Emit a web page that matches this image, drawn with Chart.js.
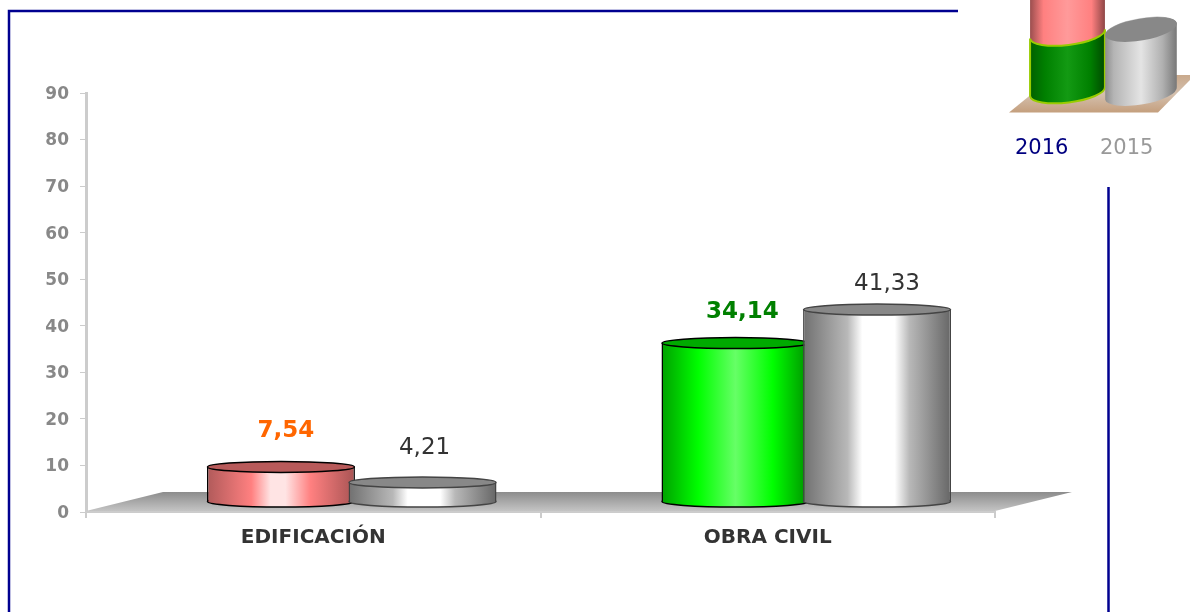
<!DOCTYPE html>
<html>
<head>
<meta charset="utf-8">
<title>Edificación / Obra civil</title>
<script src="https://cdn.jsdelivr.net/npm/chart.js@4/dist/chart.umd.min.js"></script>
<style>
    html, body { margin: 0; padding: 0; background: #fff; overflow: hidden; }
    canvas { display: block; }
</style>
</head>
<body>
<canvas id="chart" width="1190" height="612"></canvas>
<script>
const categories = ["EDIFICACIÓN", "OBRA CIVIL"];
const years = ["2016", "2015"];
const values2016 = [7.54, 34.14];
const values2015 = [4.21, 41.33];

// the bars stand in the middle of the 3d floor, not on the axis line
const depthX = 38.5;
const depthY = -10;
const floorDepth = 19;
const capRadius = 5.5;

const redRamp = [[0, "#b05a5a"], [0.3, "#ff8080"], [0.43, "#ffe4e4"], [0.53, "#ffe4e4"], [0.7, "#ff8080"], [1, "#a85454"]];
const greenRamp = [[0, "#00a000"], [0.25, "#00ff00"], [0.5, "#66ff66"], [0.75, "#00ff00"], [1, "#009000"]];
const greyRamp = [[0, "#707070"], [0.3, "#b8b8b8"], [0.4, "#ffffff"], [0.62, "#ffffff"], [0.72, "#b8b8b8"], [1, "#666666"]];

function makeRamp(ctx, left, right, ramp) {
    const grad = ctx.createLinearGradient(left, 0, right, 0);
    ramp.forEach(function (stop) {
        grad.addColorStop(stop[0], stop[1]);
    });
    return grad;
}

function barStyle(datasetIndex, dataIndex) {
    if (datasetIndex === 1) {
        return {ramp: greyRamp, cap: "#888888", line: "#444444"};
    }
    if (dataIndex === 0) {
        return {ramp: redRamp, cap: "#b85a5a", line: "#000000"};
    }
    return {ramp: greenRamp, cap: "#00aa00", line: "#000000"};
}

function drawCylinder(ctx, bar, style) {
    const grad = makeRamp(ctx, bar.x - bar.width / 2, bar.x + bar.width / 2, style.ramp);
    const rx = bar.width / 2 - 0.5;

    ctx.beginPath();
    ctx.ellipse(bar.x, bar.base, rx, capRadius, 0, 0, Math.PI * 2);
    ctx.fillStyle = grad;
    ctx.fill();
    ctx.lineWidth = 1.5;
    ctx.strokeStyle = style.line;
    ctx.stroke();

    bar.options.backgroundColor = grad;
    bar.options.borderColor = style.line;
    bar.draw(ctx);

    ctx.beginPath();
    ctx.ellipse(bar.x, bar.y, rx, capRadius, 0, 0, Math.PI * 2);
    ctx.fillStyle = style.cap;
    ctx.fill();
    ctx.lineWidth = 1.5;
    ctx.strokeStyle = style.line;
    ctx.stroke();
}

function drawFrame(ctx) {
    ctx.strokeStyle = "#000090";
    ctx.lineWidth = 2.5;
    ctx.beginPath();
    ctx.moveTo(958, 11);
    ctx.lineTo(9, 11);
    ctx.lineTo(9, 612);
    ctx.moveTo(1108.5, 187);
    ctx.lineTo(1108.5, 612);
    ctx.stroke();
}

function drawFloor(chart) {
    const ctx = chart.ctx;
    const left = chart.scales.x.left;
    const right = chart.scales.x.right;
    const front = chart.scales.y.getPixelForValue(0) - 1;
    const back = front - floorDepth;
    const grad = ctx.createLinearGradient(0, back, 0, front);
    grad.addColorStop(0, "#8c8c8c");
    grad.addColorStop(1, "#c4c4c4");
    ctx.fillStyle = grad;
    ctx.beginPath();
    ctx.moveTo(left, front);
    ctx.lineTo(right, front);
    ctx.lineTo(right + depthX * 2, back);
    ctx.lineTo(left + depthX * 2, back);
    ctx.closePath();
    ctx.fill();
}

// little tilted cylinders of the legend picture
function tiltedBody(ctx, cx, rx, ry, rot, yTop, yBottom, topRound) {
    ctx.beginPath();
    ctx.ellipse(cx, yBottom, rx, ry, rot, 0, Math.PI);
    if (topRound) {
        ctx.ellipse(cx, yTop, rx, ry, rot, Math.PI, Math.PI * 2);
    } else {
        ctx.ellipse(cx, yTop, rx, ry, rot, Math.PI, 0, true);
    }
    ctx.closePath();
}

function drawLegend(chart) {
    const ctx = chart.ctx;

    ctx.fillStyle = "#ffffff";
    ctx.fillRect(959, 0, 231, 186);

    const floor = ctx.createLinearGradient(0, 75, 0, 113);
    floor.addColorStop(0, "#c9a98c");
    floor.addColorStop(0.5, "#d4c0ae");
    floor.addColorStop(1, "#c49e7c");
    ctx.fillStyle = floor;
    ctx.beginPath();
    ctx.moveTo(1009, 112.5);
    ctx.lineTo(1158, 112.5);
    ctx.lineTo(1195, 75);
    ctx.lineTo(1055, 75);
    ctx.closePath();
    ctx.fill();

    ctx.fillStyle = makeRamp(ctx, 1030, 1105, [[0, "#9a4e4e"], [0.18, "#ff8080"], [0.5, "#ff9a9a"], [0.82, "#ff8080"], [1, "#8e4646"]]);
    tiltedBody(ctx, 1067.5, 37.7, 11, -0.12, -30, 34, true);
    ctx.fill();

    ctx.fillStyle = makeRamp(ctx, 1030, 1105, [[0, "#006000"], [0.2, "#008000"], [0.5, "#139a13"], [0.8, "#008000"], [1, "#004a00"]]);
    tiltedBody(ctx, 1067.5, 37.7, 11, -0.12, 34, 91.5, false);
    ctx.fill();
    ctx.strokeStyle = "#99cc00";
    ctx.lineWidth = 2;
    ctx.stroke();

    ctx.fillStyle = makeRamp(ctx, 1105, 1177, [[0, "#8c8c8c"], [0.12, "#b4b4b4"], [0.5, "#e4e4e4"], [0.8, "#b0b0b0"], [1, "#777777"]]);
    tiltedBody(ctx, 1141, 36.3, 11, -0.17, 29, 93.5, true);
    ctx.fill();
    ctx.fillStyle = "#888888";
    ctx.beginPath();
    ctx.ellipse(1141, 29.5, 36.3, 11, -0.17, 0, Math.PI * 2);
    ctx.fill();

    ctx.font = "21px 'DejaVu Sans'";
    ctx.textAlign = "left";
    ctx.textBaseline = "middle";
    ctx.fillStyle = "#000080";
    ctx.fillText(years[0], 1015, 149);
    ctx.fillStyle = "#999999";
    ctx.fillText(years[1], 1100, 149);
}

function drawValues(chart) {
    const ctx = chart.ctx;
    // small nudges for each value label, the original places them by hand
    const nudge = [[[5, -36], [7, -31]], [[2, -34], [10, -26]]];
    const colours = ["#ff6600", "#008000"];
    ctx.textAlign = "center";
    ctx.textBaseline = "middle";
    chart.data.datasets.forEach(function (ds, i) {
        chart.getDatasetMeta(i).data.forEach(function (bar, j) {
            ctx.font = (i === 0 ? "bold " : "") + "23px 'DejaVu Sans'";
            ctx.fillStyle = i === 0 ? colours[j] : "#333333";
            ctx.fillText(String(ds.data[j]).replace(".", ","), bar.x + depthX + nudge[i][j][0], bar.y + depthY + nudge[i][j][1]);
        });
    });
}

const cylinderPlugin = {
    id: "cylinders",
    beforeDraw: function (chart) {
        drawFrame(chart.ctx);
    },
    beforeDatasetsDraw: function (chart) {
        drawFloor(chart);
    },
    // bars are painted below in our own order, grey over the coloured one
    beforeDatasetDraw: function () {
        return false;
    },
    afterDatasetsDraw: function (chart) {
        const ctx = chart.ctx;
        ctx.save();
        ctx.translate(depthX, depthY);
        chart.data.datasets.forEach(function (ds, i) {
            chart.getDatasetMeta(i).data.forEach(function (bar, j) {
                drawCylinder(ctx, bar, barStyle(i, j));
            });
        });
        ctx.restore();
    },
    afterDraw: function (chart) {
        drawValues(chart);
        drawLegend(chart);
    }
};

Chart.defaults.font.family = "'DejaVu Sans'";

new Chart(document.getElementById("chart").getContext("2d"), {
    type: "bar",
    data: {
        labels: categories,
        datasets: [
            {label: years[0], data: values2016, borderWidth: {left: 1.5, right: 1.5, top: 0, bottom: 0}, borderSkipped: false},
            {label: years[1], data: values2015, borderWidth: {left: 1.5, right: 1.5, top: 0, bottom: 0}, borderSkipped: false}
        ]
    },
    options: {
        responsive: false,
        animation: false,
        categoryPercentage: 0.623,
        barPercentage: 1.045,
        layout: {padding: {top: 93, right: 195, left: 0, bottom: 0}},
        plugins: {legend: {display: false}, tooltip: {enabled: false}},
        scales: {
            x: {
                afterFit: function (scale) { scale.height = 100; },
                border: {color: "#cccccc", width: 2},
                grid: {drawOnChartArea: false, color: "#cccccc", lineWidth: 2, tickLength: 6},
                ticks: {color: "#333333", font: {size: 20, weight: "bold"}, padding: 8, maxRotation: 0}
            },
            y: {
                min: 0,
                max: 90,
                afterFit: function (scale) { scale.width = 86; },
                border: {color: "#cccccc", width: 3},
                grid: {drawOnChartArea: false, color: "#cccccc", tickLength: 6},
                ticks: {stepSize: 10, color: "#888888", font: {size: 17, weight: "bold"}, padding: 11, labelOffset: 1.5}
            }
        }
    },
    plugins: [cylinderPlugin]
});
</script>
</body>
</html>
